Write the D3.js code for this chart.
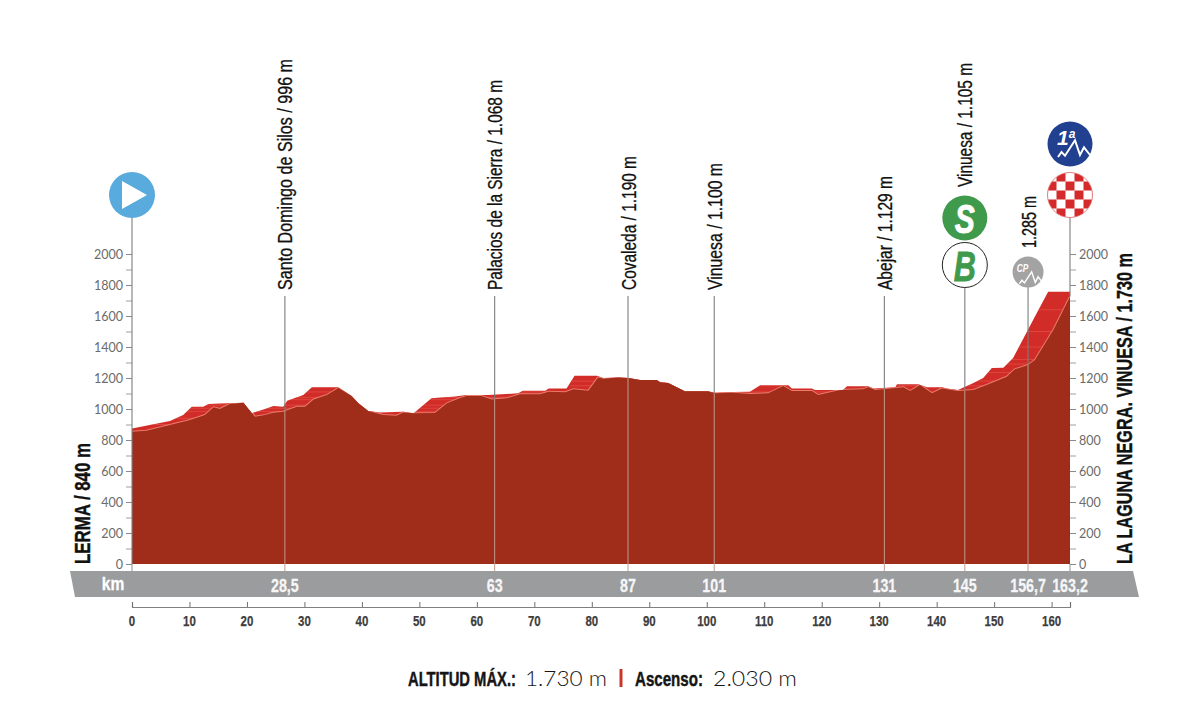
<![CDATA[<!DOCTYPE html>
<html><head><meta charset="utf-8">
<script src="https://cdn.jsdelivr.net/npm/d3@7"></script>
<style>
html,body{margin:0;padding:0;background:#fff}
svg{display:block}
</style></head><body><svg id="c" width="1200" height="703"></svg>
<script>
const frontKm=[0,2.5,6.6,10.1,12.7,14.2,15.3,17,19.4,21.4,22.9,24.6,26.3,28.7,30.1,31.6,33.9,35.9,38.2,39.4,41.1,43.7,46,47.2,48.9,52.7,54.8,57,58.2,60.8,62.6,65.2,67.5,71,72.5,75.4,76.8,79.4,81.1,82,84.6,86.4,88.4,91.3,91.9,93.3,96.2,100.2,101.4,104.6,107.5,110.7,113.3,114.8,118.3,119.4,123.2,127.2,128.1,129.3,134.2,135.4,137.1,139.2,140.9,141.8,143.7,146.4,148.7,152.2,153.6,155.9,157.1,160.3,163.2];
const frontEle=[853,860,897,929,961,1011,1000,1032,1041,950,959,976,983,1015,1015,1062,1090,1135,1084,1037,987,961,957,978,972,974,1037,1070,1084,1084,1062,1069,1095,1095,1112,1108,1127,1118,1204,1195,1204,1200,1187,1187,1172,1167,1114,1114,1101,1105,1097,1101,1148,1116,1116,1090,1123,1127,1140,1123,1140,1116,1155,1101,1133,1127,1116,1123,1155,1208,1256,1284,1316,1510,1725];
const topKm=[0,6.6,8.9,10.4,12.4,13.3,15.3,19.4,20.8,23.4,24.6,26.3,27,29.8,31.3,35.9,38.2,39.4,41.1,43.1,47.2,49,52.1,56.2,58.2,62,67.2,68,71.9,72.5,75.6,77,80.9,82,84.6,86.4,88.4,91.3,91.9,93.3,96.2,100.2,101.4,104.6,107.5,109.3,114.2,114.8,118.3,118.8,123.7,124.4,128.1,129,132.8,133.1,136.8,138.3,141,141.8,143.7,146.4,148.1,149.6,151.6,153.3,157.1,159.4,163.2];
const topEle=[875,922,961,1015,1015,1032,1036,1041,972,1004,1019,1015,1054,1090,1140,1140,1084,1037,987,978,983,972,1069,1080,1090,1090,1101,1118,1118,1133,1133,1215,1215,1200,1204,1200,1187,1187,1172,1167,1114,1114,1105,1110,1112,1153,1153,1133,1133,1123,1123,1146,1146,1133,1140,1159,1159,1140,1140,1133,1123,1167,1200,1264,1266,1329,1596,1757,1757];
const stripeEle=[900,940,985,1005,1025,1060,1075,1110,1150,1180,1235,1290,1320,1400,1500,1640];
const stopKm=[26.6,63.1,86.3,101.3,130.9,144.9,155.9,163.2];
const stopLabels=["28,5","63","87","101","131","145","156,7","163,2"];
const placeKm=[26.6,63.1,86.3,101.3,130.9,144.9,155.9];
const placeNames=["Santo Domingo de Silos / 996 m","Palacios de la Sierra / 1.068 m","Covaleda / 1.190 m","Vinuesa / 1.100 m","Abejar / 1.129 m","Vinuesa / 1.105 m","1.285 m"];
const yTicks=[0,200,400,600,800,1000,1200,1400,1600,1800,2000];
const yMinor=[100,300,500,700,900,1100,1300,1500,1700,1900];
const xTicks=[0,10,20,30,40,50,60,70,80,90,100,110,120,130,140,150,160];
const startName="LERMA / 840 m", finishName="LA LAGUNA NEGRA. VINUESA / 1.730 m";

const svg=d3.select("#c");
const x=d3.scaleLinear().domain([0,163.2]).range([132,1070]);
const y=d3.scaleLinear().domain([0,2000]).range([564,254]);
const base=y(0);
const front=frontKm.map((k,i)=>[k,frontEle[i]]);
const back=topKm.map((k,i)=>[k,topEle[i]]);
const area=d3.area().x(d=>x(d[0])).y0(base).y1(d=>y(d[1]));
const line=d3.line().x(d=>x(d[0])).y(d=>y(d[1]));
const eleAt=k=>d3.scaleLinear().domain(frontKm).range(frontEle)(k);
const SANS="'Liberation Sans',sans-serif";
// squeeze text horizontally: no condensed face is installed
function squeeze(sel,f){sel.each(function(d,i){
  const l=this.getComputedTextLength();
  const w=typeof f==="function"?f(d,i,l):l*f;
  this.setAttribute("textLength",w);this.setAttribute("lengthAdjust","spacingAndGlyphs");
});return sel;}

svg.append("path").attr("d","M70,571L1133,571L1139,597L75,597Z").attr("fill","#9a9c9e");

const defs=svg.append("defs");
defs.append("clipPath").attr("id","bk").append("path").attr("d",area(back));
svg.append("path").attr("d",area(back)).attr("fill","#d12c27");
const bandG=svg.append("g").attr("clip-path","url(#bk)");
bandG.selectAll("line").data(stripeEle).join("line")
 .attr("x1",x(0)).attr("x2",x(163.2)).attr("y1",d=>y(d)).attr("y2",d=>y(d))
 .attr("stroke","#e8675c").attr("stroke-width",.8).attr("opacity",.6);
bandG.append("path").attr("d",line(front)).attr("fill","none").attr("stroke","#ea7b6c").attr("stroke-width",2);
svg.append("path").attr("d",area(front)).attr("fill","#9f2d1a");

const lineTop=[296,296,296,296,296,288,286,218];
svg.append("g").selectAll("line").data(stopKm).join("line")
 .attr("x1",d=>x(d)).attr("x2",d=>x(d)).attr("y1",(d,i)=>lineTop[i]).attr("y2",d=>y(eleAt(d)))
 .attr("stroke","#7d7d7d").attr("stroke-width",1.1);
svg.append("g").selectAll("line").data(stopKm.slice(0,7)).join("line")
 .attr("x1",d=>x(d)).attr("x2",d=>x(d)).attr("y1",d=>y(eleAt(d))).attr("y2",571)
 .attr("stroke","#c09a8c").attr("stroke-width",1);

function yAxis(gen,tx){
 const g=svg.append("g").attr("transform",`translate(${tx},0)`);
 g.call(gen(y).tickValues(yTicks).tickSize(6).tickPadding(3).tickFormat(d3.format("d")));
 g.select(".domain").remove();
 g.selectAll(".tick line").attr("stroke","#8a8a8a");
 g.selectAll(".tick text").attr("fill","#6b6b6b").attr("font-size",12.5).attr("font-family","Lato, sans-serif");
 const m=svg.append("g").attr("transform",`translate(${tx},0)`);
 m.call(gen(y).tickValues(yMinor).tickSize(6).tickFormat(""));
 m.select(".domain").remove();
 m.selectAll(".tick line").attr("stroke","#a0a0a0");
}
yAxis(d3.axisLeft,132);
yAxis(d3.axisRight,1070);
svg.append("line").attr("x1",132).attr("x2",132).attr("y1",217).attr("y2",base).attr("stroke","#7d7d7d").attr("stroke-width",1.1);
svg.append("line").attr("x1",132).attr("x2",132).attr("y1",base).attr("y2",571).attr("stroke","#9a9a9a").attr("stroke-width",1.1);
svg.append("line").attr("x1",1070).attr("x2",1070).attr("y1",base).attr("y2",571).attr("stroke","#9a9a9a").attr("stroke-width",1.1);

const ax=svg.append("g").attr("transform","translate(0,607)");
ax.call(d3.axisTop(x).tickValues(xTicks.concat([163.2])).tickSize(5).tickFormat(""));
ax.select(".domain").attr("stroke","#808080").attr("stroke-width",1.2);
ax.selectAll(".tick line").attr("stroke","#707070");
squeeze(svg.append("g").selectAll("text").data(xTicks).join("text")
 .attr("x",d=>x(d)).attr("y",625.5).attr("text-anchor","middle").attr("font-family",SANS).attr("font-size",15.5).attr("font-weight",700)
 .attr("fill","#3d3d3d").attr("stroke","#3d3d3d").attr("stroke-width",.25).text(d=>d),.74);

squeeze(svg.append("text").attr("x",113).attr("y",590).attr("text-anchor","middle").attr("font-family",SANS).attr("font-size",19).attr("font-weight",700).attr("fill","#fff").attr("stroke","#fff").attr("stroke-width",.3).text("km"),.82);
svg.append("g").selectAll("text").data(stopKm).join("text")
 .attr("transform",d=>`translate(${x(d)},591.5) scale(.75,1)`).attr("text-anchor","middle").attr("font-family",SANS).attr("font-size",19).attr("font-weight",700).attr("fill","#f6f6f6").attr("stroke","#f6f6f6").attr("stroke-width",.3)
 .text((d,i)=>stopLabels[i]);

const labelBase=[290,290,290,290,290,187,248];
const labelWidth=[231,210,134,127,114,124,52];
squeeze(svg.append("g").selectAll("text").data(placeKm).join("text")
 .attr("transform",(d,i)=>`translate(${x(d)+7.5},${labelBase[i]}) rotate(-90)`)
 .attr("font-family",SANS).attr("font-size",19.5).attr("fill","#111").attr("stroke","#111").attr("stroke-width",.3).text((d,i)=>placeNames[i]),
 (d,i)=>labelWidth[i]);

squeeze(svg.append("text").attr("transform","translate(90,564) rotate(-90)").attr("font-family",SANS)
 .attr("font-size",22).attr("font-weight",700).attr("fill","#111").attr("stroke","#111").attr("stroke-width",.4).text(startName),()=>121);
squeeze(svg.append("text").attr("transform","translate(1132,564) rotate(-90)").attr("font-family",SANS)
 .attr("font-size",22).attr("font-weight",700).attr("fill","#111").attr("stroke","#111").attr("stroke-width",.4).text(finishName),()=>311);

const s=svg.append("g").attr("transform",`translate(${x(0)},195)`);
s.append("circle").attr("r",23).attr("fill","#58abdc");
s.append("path").attr("d","M-10,-14L15,0L-10,14Z").attr("fill","#fff");

const sx=x(144.9);
svg.append("circle").attr("cx",sx).attr("cy",218).attr("r",22.5).attr("fill","#3f9a4c");
squeeze(svg.append("text").attr("x",sx).attr("y",232.5).attr("text-anchor","middle").attr("font-family",SANS).attr("font-weight",700).attr("font-style","italic").attr("font-size",40).attr("fill","#fff").attr("stroke","#fff").attr("stroke-width",.8).text("S"),.75);
svg.append("circle").attr("cx",sx).attr("cy",265).attr("r",22.5).attr("fill","#fff").attr("stroke","#222").attr("stroke-width",1);
squeeze(svg.append("text").attr("x",sx).attr("y",281).attr("text-anchor","middle").attr("font-family",SANS).attr("font-weight",700).attr("font-style","italic").attr("font-size",42).attr("fill","#3f9a4c").attr("stroke","#3f9a4c").attr("stroke-width",.8).text("B"),.73);

const mtn="M-12,13L-8.5,8L-5,11.7L5,-3.7L10,11L14,3.3L20,11";
const cp=svg.append("g").attr("transform",`translate(${x(155.9)},272)`);
cp.append("circle").attr("r",15.5).attr("fill","#a3a3a3");
cp.append("path").attr("d",mtn).attr("transform","translate(0,2.5) scale(.72)").attr("fill","none").attr("stroke","#fff").attr("stroke-width",2);
squeeze(cp.append("text").attr("x",-5.5).attr("y",0).attr("text-anchor","middle").attr("font-family",SANS).attr("font-weight",700).attr("font-style","italic").attr("font-size",11).attr("fill","#fff").text("CP"),.75);

const cat=svg.append("g").attr("transform",`translate(${x(163.2)},144)`);
cat.append("circle").attr("r",22.5).attr("fill","#21408f");
cat.append("path").attr("d",mtn).attr("fill","none").attr("stroke","#fff").attr("stroke-width",2);
const ct=cat.append("text").attr("x",-13).attr("y",1).attr("font-family",SANS).attr("font-weight",700).attr("font-style","italic").attr("font-size",21).attr("fill","#fff").text("1");
ct.append("tspan").attr("dy",-7).attr("font-size",12).text("a");

const fx=x(163.2), fy=195, sq=9;
defs.append("clipPath").attr("id","ck").append("circle").attr("cx",fx).attr("cy",fy).attr("r",22.5);
const ck=svg.append("g").attr("clip-path","url(#ck)");
ck.append("rect").attr("x",fx-23).attr("y",fy-23).attr("width",46).attr("height",46).attr("fill","#fff");
d3.range(-3,4).forEach(i=>d3.range(-3,4).forEach(j=>{
 if((i+j+6)%2===1) ck.append("rect").attr("x",fx+(i-.5)*sq).attr("y",fy+(j-.5)*sq).attr("width",sq).attr("height",sq).attr("fill","#d42a2b");
}));
svg.append("circle").attr("cx",fx).attr("cy",fy).attr("r",22.5).attr("fill","none").attr("stroke","#e0686a").attr("stroke-width",.8);

// footer: squeezed through a transform so the box of each text is its drawn width
const foot=(t,xp,w,fs,fam,width,heavy)=>{
 const n=svg.append("text").attr("font-size",fs).attr("font-family",fam).attr("font-weight",w).attr("fill","#151515").text(t);
 if(heavy) n.attr("stroke","#151515").attr("stroke-width",.45);
 const l=n.node().getComputedTextLength();
 n.attr("transform",`translate(${xp},686) scale(${width/l},1)`);
};
foot("ALTITUD MÁX.:",408,700,21,SANS,108,true);
foot("1.730 m",525,300,21,"Lato, sans-serif",82);
svg.append("rect").attr("x",619.5).attr("y",669).attr("width",3).attr("height",18).attr("fill","#c8382a");
foot("Ascenso:",635,700,21,SANS,68,true);
foot("2.030 m",713,300,21,"Lato, sans-serif",84);
</script></body></html>]]>
